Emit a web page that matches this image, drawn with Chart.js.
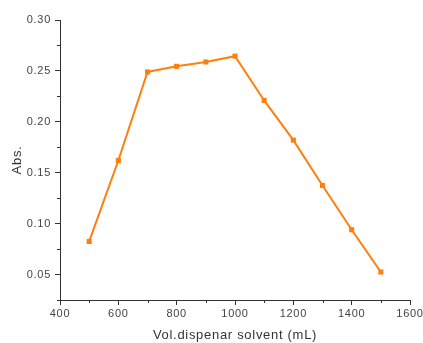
<!DOCTYPE html>
<html><head><meta charset="utf-8">
<script src="https://cdn.jsdelivr.net/npm/chart.js@4"></script>
<style>html,body{margin:0;padding:0;background:#fff}#wrap{width:423px;height:343px}</style>
</head><body><div id="wrap"><canvas id="c" width="423" height="343"></canvas></div>
<script>
const volumes = [500, 600, 700, 800, 900, 1000, 1100, 1200, 1300, 1400, 1500];
const absValues = [0.0825, 0.162, 0.249, 0.2545, 0.2588, 0.2645, 0.221, 0.182, 0.1375, 0.094, 0.0525];
const xTickLabels = [400, 600, 800, 1000, 1200, 1400, 1600];
const yTickLabels = [0.05, 0.10, 0.15, 0.20, 0.25, 0.30];
const xTitle = 'Vol.dispenar solvent (mL)';
const yTitle = 'Abs.';

const spacing = {
  id: 'spacing',
  beforeLayout(chart) { chart.ctx.letterSpacing = '0.7px'; },
  beforeDraw(chart) { chart.ctx.letterSpacing = '0.7px'; }
};

const minorTicks = {
  id: 'minorTicks',
  afterDraw(chart) {
    const ctx = chart.ctx, xs = chart.scales.x, ys = chart.scales.y;
    ctx.save();
    ctx.strokeStyle = '#333'; ctx.lineWidth = 1;
    for (let v = 500; v < 1600; v += 200) {
      const px = Math.round(xs.getPixelForValue(v)) + 0.5;
      ctx.beginPath(); ctx.moveTo(px, ys.bottom); ctx.lineTo(px, ys.bottom + 3); ctx.stroke();
    }
    for (let v = 0.025; v < 0.3; v += 0.05) {
      const py = Math.round(ys.getPixelForValue(v)) + 0.5;
      ctx.beginPath(); ctx.moveTo(xs.left, py); ctx.lineTo(xs.left - 3, py); ctx.stroke();
    }
    ctx.restore();
  }
};

new Chart(document.getElementById('c'), {
  type: 'scatter',
  data: { datasets: [{
    data: volumes.map((v, i) => ({ x: v, y: absValues[i] })),
    showLine: true,
    borderColor: '#FF7F0E',
    backgroundColor: '#FF7F0E',
    borderWidth: 2,
    pointStyle: 'rect',
    pointRadius: 3.6,
    pointBorderWidth: 0
  }]},
  options: {
    responsive: false,
    animation: false,
    layout: { padding: { top: 20, right: 13, left: 10, bottom: 0 } },
    plugins: { legend: { display: false }, tooltip: { enabled: false } },
    scales: {
      x: {
        type: 'linear', min: 400, max: 1600,
        afterBuildTicks(s) { s.ticks = xTickLabels.map(v => ({ value: v })); },
        afterFit(s) { s.height = 43; s.paddingRight = 0; s.paddingLeft = 0; },
        grid: { drawOnChartArea: false, tickLength: 5, color: '#333' },
        border: { color: '#333', width: 1 },
        ticks: { color: '#444', font: { family: 'Liberation Sans, Arial', size: 11 }, padding: 2, maxRotation: 0, callback: v => String(v) },
        title: { display: true, text: xTitle, color: '#333', font: { family: 'Liberation Sans, Arial', size: 13 }, padding: { top: 3, bottom: 0 } }
      },
      y: {
        type: 'linear', min: 0.025, max: 0.30,
        afterBuildTicks(s) { s.ticks = yTickLabels.map(v => ({ value: v })); },
        afterFit(s) { s.width = 50; s.paddingTop = 0; s.paddingBottom = 0; },
        grid: { drawOnChartArea: false, tickLength: 5, color: '#333' },
        border: { color: '#333', width: 1 },
        ticks: { color: '#444', font: { family: 'Liberation Sans, Arial', size: 11 }, padding: 4, callback: v => v.toFixed(2) },
        title: { display: true, text: yTitle, color: '#333', font: { family: 'Liberation Sans, Arial', size: 13 }, padding: { top: 0, bottom: 4 } }
      }
    }
  },
  plugins: [spacing, minorTicks]
});
</script></body></html>
